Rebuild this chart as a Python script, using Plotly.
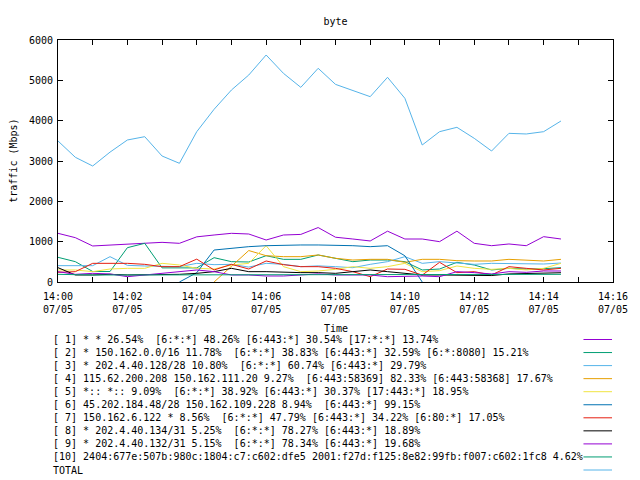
import plotly.graph_objects as go

DATE = "2024-07-05"
times = ["14:00:00", "14:00:30", "14:01:00", "14:01:30", "14:02:00", "14:02:30", "14:03:00", "14:03:30",
         "14:04:00", "14:04:30", "14:05:00", "14:05:30", "14:06:00", "14:06:30", "14:07:00", "14:07:30",
         "14:08:00", "14:08:30", "14:09:00", "14:09:30", "14:10:00", "14:10:30", "14:11:00", "14:11:30",
         "14:12:00", "14:12:30", "14:13:00", "14:13:30", "14:14:00", "14:14:30"]

s1 = [1207, 1099, 893, 918, 934, 959, 983, 959, 1120, 1165, 1207, 1190, 1041, 1165, 1180, 1350, 1110, 1066,
      1017, 1260, 1066, 1066, 1000, 1260, 959, 900, 943, 900, 1124, 1066]
s2 = [612, 504, 260, 260, 851, 959, 350, 350, 350, 603, 504, 496, 652, 562, 562, 670, 590, 504, 545, 545, 504,
      298, 322, 488, 421, 298, 339, 320, 330, 355]
s3 = [405, 405, 405, 628, 413, 397, 397, 380, 463, 430, 438, 370, 463, 438, 380, 400, 380, 355, 438, 504, 628,
      463, 504, 479, 438, 463, 463, 446, 446, 470]
s4 = [None, None, None, None, None, None, None, None, None, 0, 380, 780, 652, 628, 628, 670, 587, 545, 562, 562,
      488, 562, 562, 529, 521, 521, 562, 545, 521, 562]
s5 = [298, 298, 256, 322, 339, 339, 463, 421, 340, 322, 421, 463, 900, 380, 256, 273, 314, 380, 339, 380, 463,
      256, 281, 397, 339, 314, 339, 298, 339, 463]
s6 = [None, None, None, None, None, None, None, 0, 230, 793, 835, 876, 900, 917, 918, 918, 917, 900, 876, 900,
      650, 0, None, None, None, None, None, None, None, None]
s7 = [240, 256, 463, 463, 463, 438, 380, 380, 567, 298, 438, 322, 521, 430, 380, 380, 339, 256, 132, 322, 314,
      171, 488, 232, 256, 174, 380, 339, 298, 339]
s8 = [355, 174, 174, 190, 174, 174, 174, 190, 215, 256, 339, 256, 256, 240, 232, 232, 215, 256, 298, 256, 215,
      174, 174, 174, 174, 160, 200, 215, 230, 230]
s9 = [256, 190, 215, 200, 132, 174, 200, 256, 298, 256, 174, 174, 149, 149, 174, 200, 174, 174, 174, 132, 149,
      149, 132, 256, 232, 200, 256, 240, 273, 273]
s10 = [190, 174, 174, 174, 174, 174, 174, 174, 174, 174, 180, 180, 190, 190, 190, 190, 190, 190, 190, 190, 190,
       190, 190, 190, 190, 190, 190, 190, 190, 190]
total = [3496, 3092, 2876, 3220, 3521, 3603, 3124, 2943, 3727, 4282, 4760, 5132, 5628, 5173, 4826, 5298, 4900,
         4740, 4595, 5075, 4554, 3397, 3727, 3835, 3562, 3248, 3686, 3670, 3727, 3992]

labels = [
    "[ 1] * * 26.54%  [6:*:*] 48.26% [6:443:*] 30.54% [17:*:*] 13.74%",
    "[ 2] * 150.162.0.0/16 11.78%  [6:*:*] 38.83% [6:443:*] 32.59% [6:*:8080] 15.21%",
    "[ 3] * 202.4.40.128/28 10.80%  [6:*:*] 60.74% [6:443:*] 29.79%",
    "[ 4] 115.62.200.208 150.162.111.20 9.27%  [6:443:58369] 82.33% [6:443:58368] 17.67%",
    "[ 5] *:: *:: 9.09%  [6:*:*] 38.92% [6:443:*] 30.37% [17:443:*] 18.95%",
    "[ 6] 45.202.184.48/28 150.162.109.228 8.94%  [6:443:*] 99.15%",
    "[ 7] 150.162.6.122 * 8.56%  [6:*:*] 47.79% [6:443:*] 34.22% [6:80:*] 17.05%",
    "[ 8] * 202.4.40.134/31 5.25%  [6:*:*] 78.27% [6:443:*] 18.89%",
    "[ 9] * 202.4.40.132/31 5.15%  [6:*:*] 78.34% [6:443:*] 19.68%",
    "[10] 2404:677e:507b:980c:1804:c7:c602:dfe5 2001:f27d:f125:8e82:99fb:f007:c602:1fc8 4.62%",
    "TOTAL",
]
series = [s1, s2, s3, s4, s5, s6, s7, s8, s9, s10, total]
colors = ["#9400d3", "#009e73", "#56b4e9", "#e69f00", "#f0e442", "#0072b2", "#e51e10", "#000000",
          "#9400d3", "#009e73", "#56b4e9"]

tick_minutes = list(range(0, 17))
tick_vals = [f"{DATE} 14:{m:02d}:00" for m in tick_minutes]
tick_text = [f"14:{m:02d}<br>07/05" if m % 2 == 0 else "" for m in tick_minutes]

FONT = "DejaVu Sans Mono"
L, R, T, B = 58, 622, 40, 282


def px_x(px):
    return (px - L) / (R - L)


def px_y(py):
    return (B - py) / (B - T)


x = [f"{DATE} {t}" for t in times]
fig = go.Figure()
for ys, c in zip(series, colors):
    fig.add_trace(go.Scatter(x=x, y=ys, mode="lines", line=dict(color=c, width=1),
                             connectgaps=False, hoverinfo="skip"))

annotations = []
shapes = []
for i, (lab, c) in enumerate(zip(labels, colors)):
    yy = 339.5 + 13.05 * i
    annotations.append(dict(x=px_x(51), y=px_y(yy), xref="paper", yref="paper", xanchor="left",
                            yanchor="middle", text=lab.replace(" ", "\u00a0"), showarrow=False,
                            font=dict(family=FONT, size=10, color="black")))
    shapes.append(dict(type="line", xref="paper", yref="paper", x0=px_x(592), x1=px_x(621),
                       y0=px_y(yy), y1=px_y(yy), line=dict(color=c, width=1)))

annotations.append(dict(x=px_x(340), y=px_y(328), xref="paper", yref="paper", xanchor="center",
                        yanchor="middle", text="Time", showarrow=False,
                        font=dict(family=FONT, size=10, color="black")))
annotations.append(dict(x=px_x(12), y=px_y(161), xref="paper", yref="paper", xanchor="center",
                        yanchor="middle", text="traffic (Mbps)", textangle=-90, showarrow=False,
                        font=dict(family=FONT, size=10, color="black")))

fig.update_layout(
    width=640, height=480, autosize=False,
    margin=dict(l=L, r=640 - R, t=T, b=480 - B, pad=0),
    paper_bgcolor="white", plot_bgcolor="white",
    showlegend=False,
    font=dict(family=FONT, size=10, color="black"),
    title=dict(text="byte", x=px_x(340), xref="paper", xanchor="center", y=1 - 21 / 480,
               yref="container", yanchor="middle", font=dict(family=FONT, size=10, color="black")),
    annotations=annotations,
    shapes=shapes,
    xaxis=dict(type="date", range=[f"{DATE} 14:00:00", f"{DATE} 14:16:00"], tickmode="array",
               tickvals=tick_vals, ticktext=tick_text, ticks="inside", ticklen=5, tickcolor="black",
               showline=True, linecolor="black", linewidth=1, mirror="ticks", showgrid=False,
               zeroline=False, ticklabelstandoff=5, tickfont=dict(family=FONT, size=10, color="black")),
    yaxis=dict(range=[0, 6000], tickmode="array", tickvals=[0, 1000, 2000, 3000, 4000, 5000, 6000],
               ticks="inside", ticklen=5, tickcolor="black", showline=True, linecolor="black",
               linewidth=1, mirror="ticks", showgrid=False, zeroline=False, ticklabelstandoff=2,
               tickfont=dict(family=FONT, size=10, color="black")),
)

fig.write_html("out.html", config={"displayModeBar": False},
               post_script="document.body.style.margin='0';document.body.style.overflow='hidden';")
